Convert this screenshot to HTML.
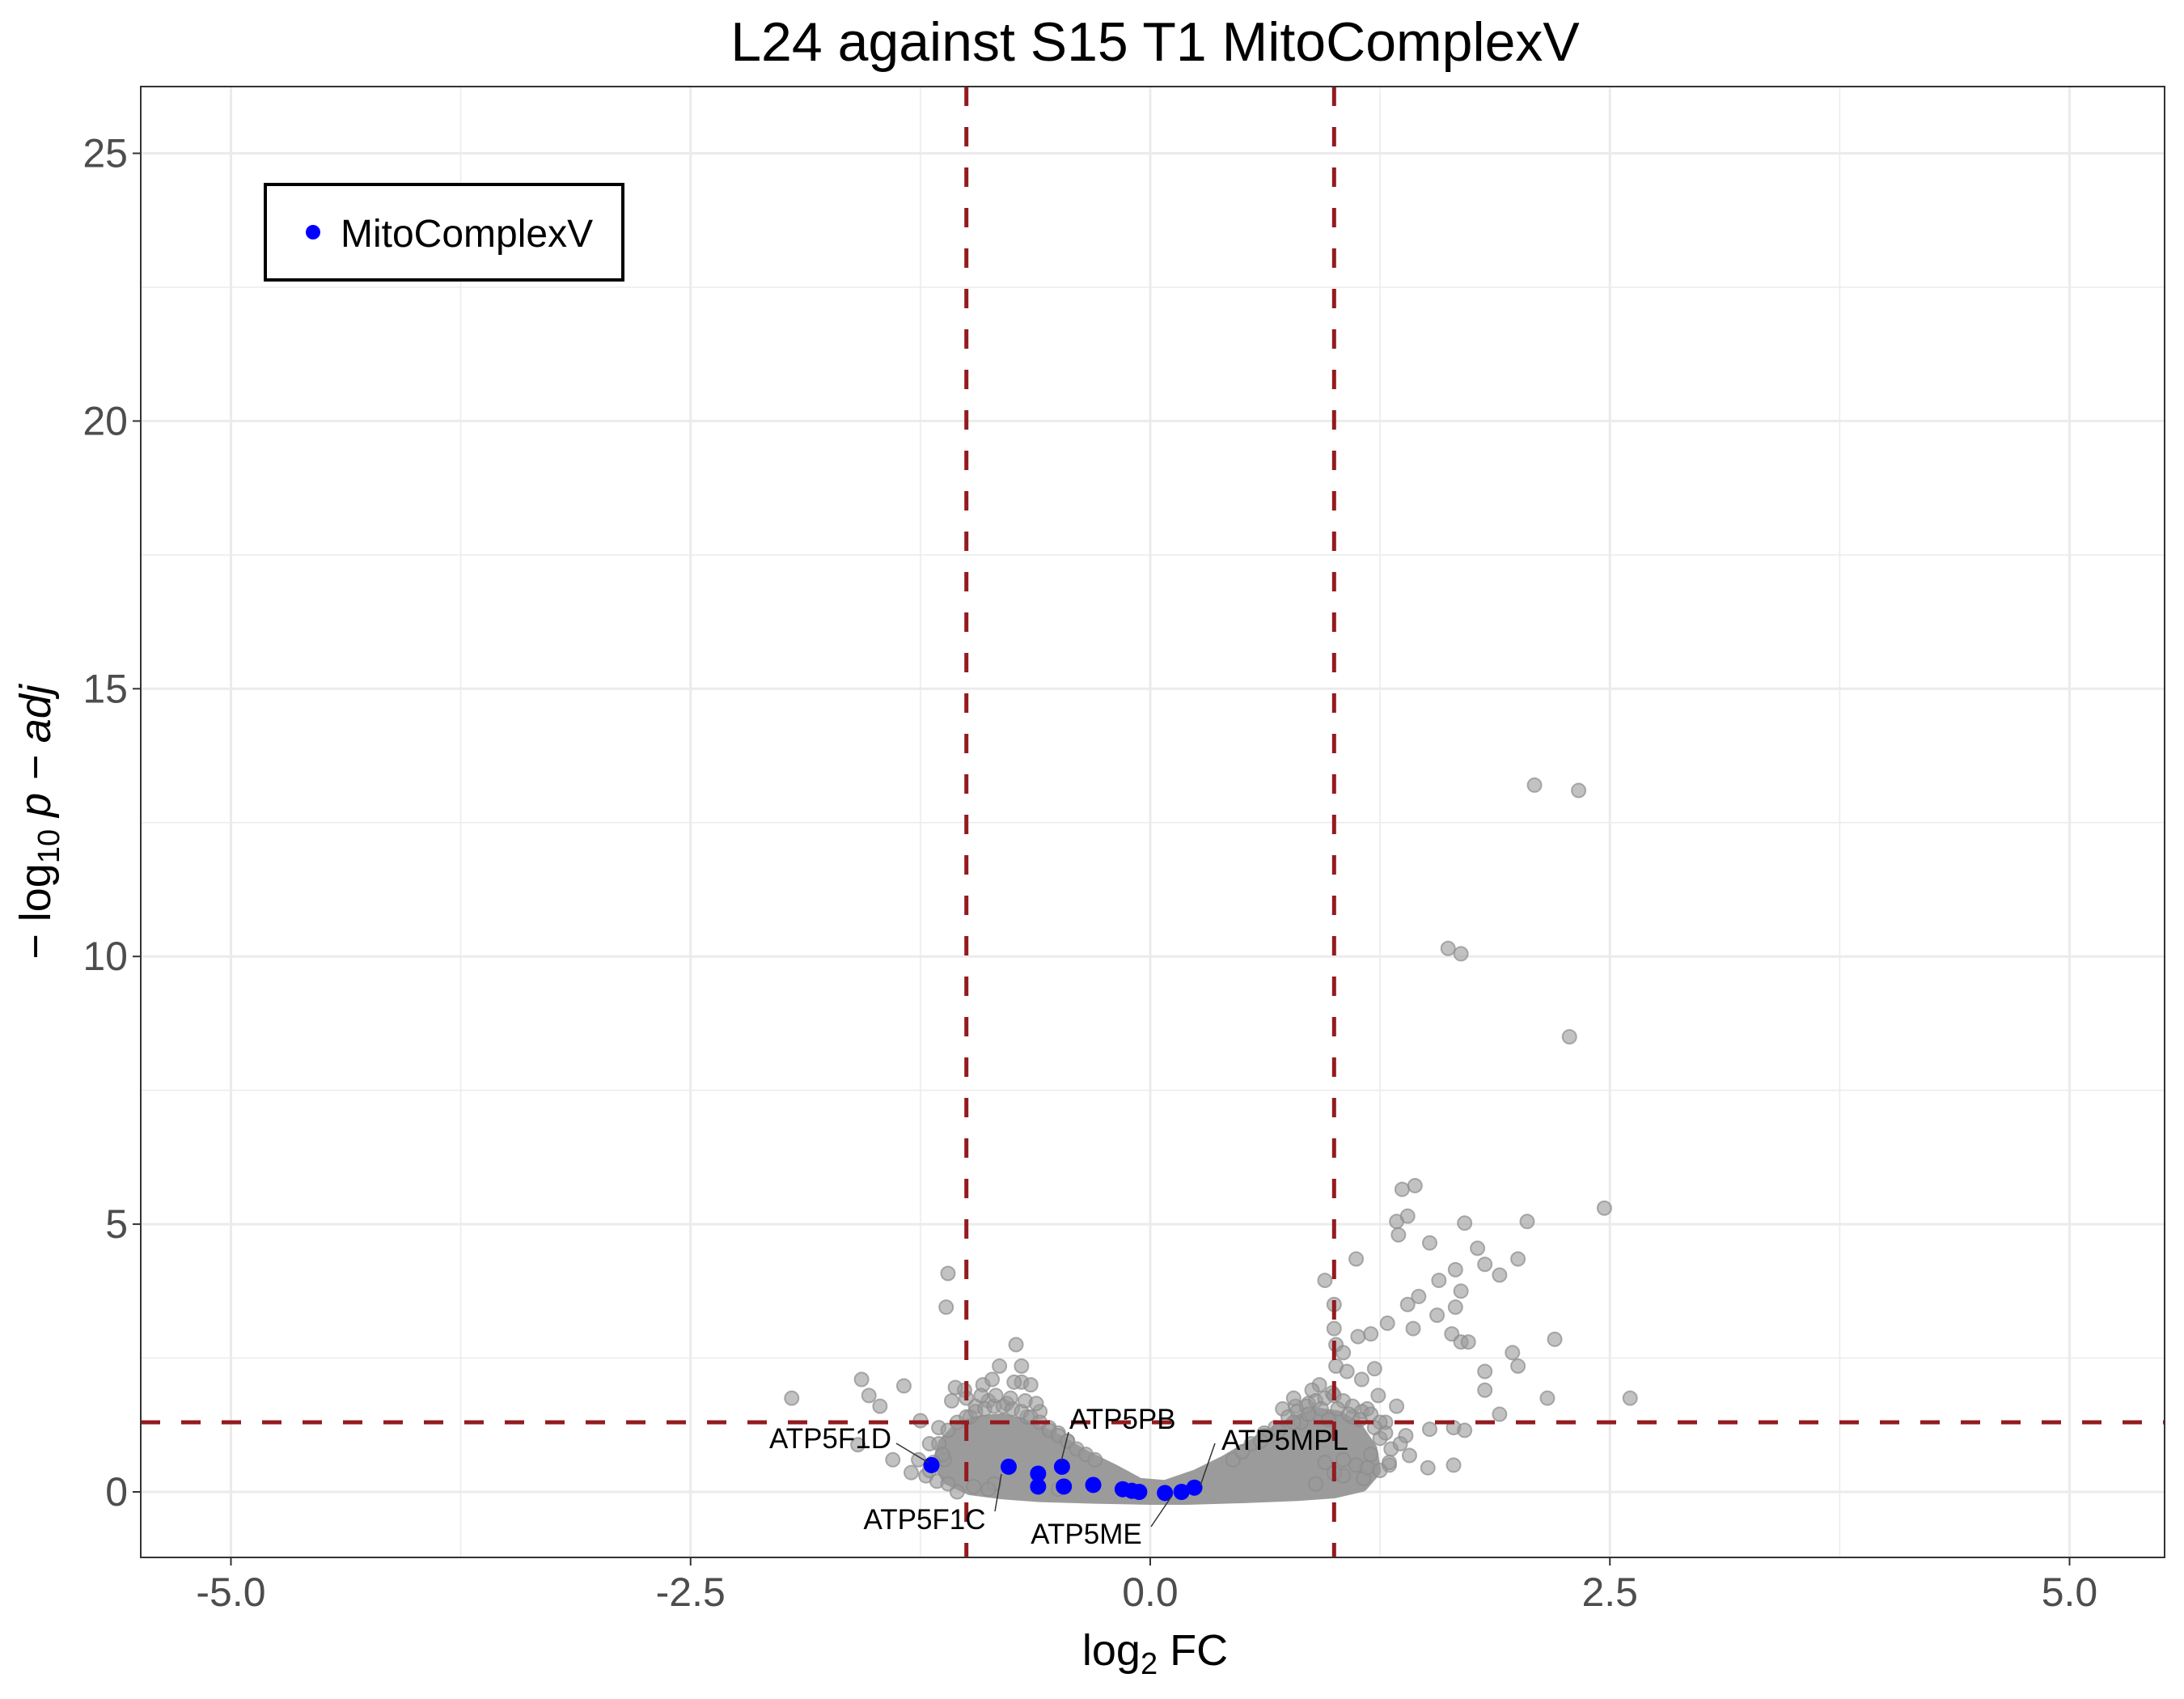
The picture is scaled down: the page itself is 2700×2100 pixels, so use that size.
<!DOCTYPE html>
<html><head><meta charset="utf-8"><style>
html,body{margin:0;padding:0;background:#fff;}
svg{display:block;font-family:"Liberation Sans",Arial,sans-serif;}
</style></head><body>
<svg id="chart" width="2700" height="2100" viewBox="0 0 2700 2100">
<text x="1428" y="75" font-size="68" text-anchor="middle" fill="#000">L24 against S15 T1 MitoComplexV</text>
<g id="grid"></g>
<g id="cloud"></g>
<g id="gray"></g>
<g id="thr"></g>
<g id="blue"></g>
<g id="labels"></g>
<rect x="174" y="107" width="2502" height="1818" fill="none" stroke="#333" stroke-width="2"/>
<g id="axes"></g>
<text x="1428" y="2058" font-size="54" text-anchor="middle">log<tspan font-size="38" dy="11">2</tspan><tspan dy="-11"> FC</tspan></text>
<text transform="translate(62,1016) rotate(-90)" font-size="54" text-anchor="middle">− log<tspan font-size="38" dy="11">10</tspan><tspan dy="-11" font-style="italic"> p − adj</tspan></text>
<g>
<rect x="328" y="228" width="442" height="118" fill="#fff" stroke="#000" stroke-width="4"/>
<circle cx="387" cy="287" r="9" fill="#0000ff"/>
<text x="421" y="305" font-size="48">MitoComplexV</text>
</g>
</svg>
<script>
const xTicks=[-5,-2.5,0,2.5,5];
const xTickLabels=["-5.0","-2.5","0.0","2.5","5.0"];
const yTicks=[0,5,10,15,20,25];
const yTickLabels=["0","5","10","15","20","25"];
const grayX=[2.09,2.33,1.62,1.69,2.28,2.47,1.37,1.44,1.34,1.40,1.71,2.05,1.35,1.52,1.78,2.0,1.82,1.66,1.9,1.12,0.95,1.57,1.69,1.66,1.46,1.40,1.56,1.29,1.43,1.0,1.0,1.01,1.64,1.69,1.73,2.2,1.97,2.0,1.82,1.82,2.16,2.61,1.9,1.65,1.71,1.52,1.51,1.65,1.13,1.2,1.01,1.07,1.22,1.24,0.99,0.86,0.97,0.79,1.28,1.39,1.31,1.41,0.92,0.88,1.05,1.15,1.18,0.72,0.78,1.1,1.25,1.3,1.34,0.62,1.05,0.95,0.82,1.2,1.16,1.36,
0.55,0.62,0.68,0.75,0.8,0.85,0.9,0.95,1.0,1.05,1.1,1.15,1.2,1.25,0.7,0.78,0.86,0.93,1.02,1.08,1.14,1.22,1.28,1.05,1.12,1.18,1.25,1.3,1.0,0.9,0.45,0.5,0.6,
-1.10,-1.11,-0.73,-0.82,-0.70,-0.70,-0.74,-0.65,-1.01,-0.91,-0.86,-1.95,-1.57,-1.34,-1.53,-1.47,-1.06,-1.25,-1.59,-1.26,-1.40,-1.30,-0.60,-0.55,-0.95,-0.88,-0.78,-1.15,-1.2,-1.22,-0.98,-0.67,-0.5,-0.45,-0.85,-1.05,-1.12,
-1.15,-1.1,-1.05,-1.0,-0.95,-0.9,-0.85,-0.8,-0.75,-0.7,-0.65,-0.6,-0.55,-0.5,-0.45,-0.4,-0.35,-0.3,-1.08,-1.0,-0.92,-0.84,-0.76,-0.68,-0.62,-1.13,-1.18,-1.2,-1.16,-1.1,-0.5,-0.88,-0.96];
const grayY=[13.2,13.1,10.15,10.05,8.5,5.3,5.65,5.72,5.05,5.15,5.02,5.05,4.8,4.65,4.55,4.35,4.25,4.15,4.05,4.35,3.95,3.95,3.75,3.45,3.65,3.5,3.3,3.15,3.05,3.5,3.05,2.75,2.95,2.8,2.8,2.85,2.6,2.35,2.25,1.9,1.75,1.75,1.45,1.2,1.15,1.17,0.45,0.5,2.9,2.95,2.35,2.25,2.3,1.8,1.85,1.65,1.35,1.6,1.3,1.05,0.8,0.68,2.0,1.9,2.6,2.1,1.55,1.55,1.75,1.4,1.0,0.5,1.6,1.1,0.3,0.55,1.3,0.7,0.25,0.9,
0.9,1.05,1.2,1.4,1.5,1.6,1.7,1.75,1.8,1.7,1.6,1.5,1.45,1.3,1.15,1.3,1.45,1.55,1.55,1.45,1.35,1.2,1.1,0.6,0.5,0.45,0.4,0.55,0.35,0.15,0.6,0.75,0.95,
4.08,3.45,2.75,2.35,2.35,2.05,2.05,2.0,1.9,2.0,2.1,1.75,2.1,1.98,1.8,1.6,1.95,1.33,0.88,0.6,0.6,0.36,1.5,1.2,1.6,1.7,1.65,1.2,0.9,0.3,1.4,1.4,1.1,0.95,0.15,0.0,0.6,
0.9,1.15,1.3,1.4,1.5,1.55,1.6,1.6,1.55,1.5,1.4,1.3,1.15,1.05,0.95,0.8,0.7,0.6,1.7,1.75,1.8,1.8,1.75,1.7,1.65,0.7,0.55,0.4,0.2,0.15,0.05,0.05,0.1];
const hullX=[0,-0.3,-0.6,-0.8,-0.98,-1.1,-1.15,-1.12,-1.05,-0.95,-0.8,-0.65,-0.5,-0.35,-0.2,-0.06,0.08,0.25,0.4,0.55,0.7,0.82,0.92,1.02,1.12,1.2,1.22,1.15,1.0,0.8,0.5,0.2];
const hullY=[-0.12,-0.1,-0.07,-0.02,0.06,0.25,0.55,0.9,1.15,1.3,1.35,1.2,0.95,0.65,0.4,0.14,0.1,0.3,0.55,0.85,1.15,1.35,1.45,1.4,1.2,0.8,0.4,0.12,0.0,-0.05,-0.09,-0.12];
const blueX=[-1.19,-0.77,-0.61,-0.48,-0.61,-0.47,-0.31,-0.15,-0.10,-0.06,0.08,0.17,0.24];
const blueY=[0.5,0.47,0.34,0.47,0.1,0.1,0.13,0.05,0.02,0.0,-0.02,0.0,0.08];
const labelNames=["ATP5F1D","ATP5F1C","ATP5PB","ATP5MPL","ATP5ME"];

const NS="http://www.w3.org/2000/svg";
const X0=1422,XS=227.3,Y0=1844,YS=66.18,L=174,R=2676,T=107,B=1925;
const sx=x=>X0+x*XS, sy=y=>Y0-y*YS;
function mk(tag,attrs,parent){const e=document.createElementNS(NS,tag);for(const k in attrs)e.setAttribute(k,attrs[k]);parent.appendChild(e);return e;}
const grid=document.getElementById('grid');
for(const v of [-3.75,-1.25,1.25,3.75]){const e=mk('line',{x1:sx(v),x2:sx(v),y1:T,y2:B,stroke:'#ebebeb','stroke-width':1.5},grid);

}
for(const v of [2.5,7.5,12.5,17.5,22.5]){const e=mk('line',{x1:L,x2:R,y1:sy(v),y2:sy(v),stroke:'#ebebeb','stroke-width':1.5},grid);

}
const axes=document.getElementById('axes');
xTicks.forEach((v,i)=>{const e=mk('line',{x1:sx(v),x2:sx(v),y1:T,y2:B,stroke:'#ebebeb',
'stroke-width':3},grid);


const t=mk('line',{x1:sx(v),x2:sx(v),y1:B,y2:B+10,stroke:'#333','stroke-width':2},axes);


const l=mk('text',{x:sx(v),y:1985,'font-size':50,'text-anchor':'middle',fill:'#4d4d4d'},axes);l.textContent=xTickLabels[i];

});
yTicks.forEach((v,i)=>{const e=mk('line',{x1:L,x2:R,y1:sy(v),y2:sy(v),stroke:'#ebebeb','stroke-width':3},grid);


const t=mk('line',{x1:L-10,x2:L,y1:sy(v),y2:sy(v),stroke:'#333','stroke-width':2},axes);


const l=mk('text',{x:L-16,y:sy(v)+17,'font-size':50,'text-anchor':'end',fill:'#4d4d4d'},axes);l.textContent=yTickLabels[i];

});
const cloud=document.getElementById('cloud');
const hp=mk('polygon',{points:hullX.map((x,i)=>sx(x)+','+sy(hullY[i])).join(' '),fill:'#9b9b9b',stroke:'#9b9b9b','stroke-width':16,'stroke-linejoin':'round'},cloud);


const gray=document.getElementById('gray');
grayX.forEach((x,i)=>{const c=mk('circle',{cx:sx(x),cy:sy(grayY[i]),r:8.5,fill:'rgba(153,153,153,0.6)',stroke:'rgba(140,140,140,0.7)','stroke-width':2},gray);

});
const thr=document.getElementById('thr');
[[sx(-1),T,sx(-1),B],[sx(1),T,sx(1),B],[L,sy(1.3),R,sy(1.3)]].forEach(a=>{const e=mk('line',{x1:a[0],y1:a[1],x2:a[2],y2:a[3],stroke:'#931b1f','stroke-width':5,'stroke-dasharray':'24 26'},thr);

});
const blue=document.getElementById('blue');
blueX.forEach((x,i)=>{const c=mk('circle',{cx:sx(x),cy:sy(blueY[i]),r:10,fill:'#0000ff'},blue);

});
const labels=document.getElementById('labels');
const lab=[[1102,1790,'end',1108,1784,1148,1808],[1143,1890,'middle',1230,1868,1238,1822],[1322,1766,'start',1321,1770,1312,1806],[1510,1792,'start',1502,1784,1484,1836],[1343,1908,'middle',1423,1887,1448,1850]];
lab.forEach((a,i)=>{const s=mk('line',{x1:a[3],y1:a[4],x2:a[5],y2:a[6],stroke:'#333','stroke-width':1.5},labels);


const t=mk('text',{x:a[0],y:a[1],'font-size':35,'text-anchor':a[2],fill:'#000'},labels);t.textContent=labelNames[i];

});
</script>
</body></html>
